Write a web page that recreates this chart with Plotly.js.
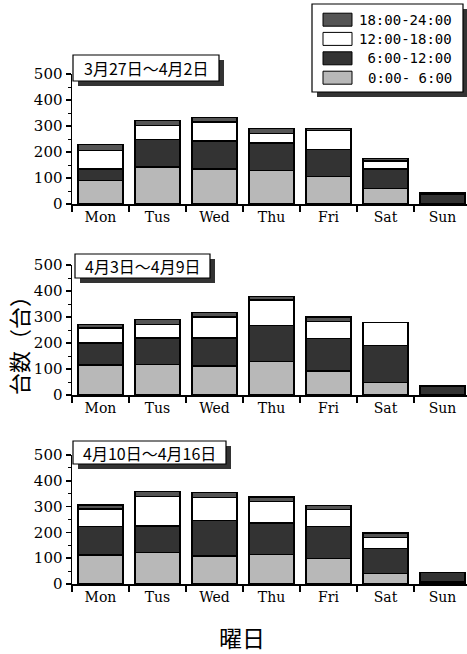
<!DOCTYPE html>
<html>
<head>
<meta charset="utf-8">
<script src="https://cdn.plot.ly/plotly-3.0.1.min.js"></script>
<style>html,body{margin:0;padding:0;background:#fff;}#chart{width:467px;height:654px;}</style>
</head>
<body>
<div id="chart"></div>
<script>
// ---- data ----
const days = ['Mon', 'Tus', 'Wed', 'Thu', 'Fri', 'Sat', 'Sun'];
const seriesNames = ['0:00-\u00a06:00', '\u00a06:00-12:00', '12:00-18:00', '18:00-24:00'];
const panelTitles = ['3月27日～4月2日', '4月3日～4月9日', '4月10日～4月16日'];
const yTickVals = [0, 100, 200, 300, 400, 500];

// week 1 (3/27 - 4/2)
const w1_00_06 = [90, 143, 135, 130, 105, 60, 0];
const w1_06_12 = [45, 105, 108, 105, 105, 75, 38];
const w1_12_18 = [70, 54, 72, 37, 72, 30, 0];
const w1_18_24 = [23, 20, 17, 18, 8, 10, 7];
// week 2 (4/3 - 4/9)
const w2_00_06 = [115, 117, 112, 130, 92, 48, 0];
const w2_06_12 = [85, 103, 108, 137, 126, 142, 35];
const w2_12_18 = [58, 52, 80, 98, 64, 88, 0];
const w2_18_24 = [14, 18, 17, 15, 18, 2, 0];
// week 3 (4/10 - 4/16)
const w3_00_06 = [112, 122, 108, 115, 100, 40, 8];
const w3_06_12 = [110, 103, 137, 122, 122, 98, 37];
const w3_12_18 = [68, 115, 90, 83, 66, 42, 0];
const w3_18_24 = [16, 18, 20, 18, 17, 18, 0];

const panels = [
  [w1_00_06, w1_06_12, w1_12_18, w1_18_24],
  [w2_00_06, w2_06_12, w2_12_18, w2_18_24],
  [w3_00_06, w3_06_12, w3_12_18, w3_18_24]
];

// ---- styling ----
const W = 467, H = 654;
const px = x => x / W;
const py = y => 1 - y / H;
const colors = ['#b8b8b8', '#333333', '#ffffff', '#555555'];
const yDomainsPx = [[74, 204], [265, 395], [455, 584]];
const titleBoxes = [[73, 55, 219, 81], [75, 254, 210, 278], [73, 441, 226, 464]];
const xTickFont = {family: 'DejaVu Serif', size: 14, color: '#000'};
const yTickFont = {family: 'DejaVu Serif', size: 15, color: '#000'};

const traces = [];
panels.forEach((series, p) => {
  const sfx = p === 0 ? '' : String(p + 1);
  series.forEach((vals, s) => {
    traces.push({
      type: 'bar', x: days, y: vals, name: seriesNames[s],
      xaxis: 'x' + sfx, yaxis: 'y' + sfx, width: 0.79,
      marker: {color: colors[s], line: {color: '#000', width: 1.4}},
      showlegend: false, hoverinfo: 'skip'
    });
  });
});

const layout = {
  width: W, height: H,
  margin: {l: 0, r: 0, t: 0, b: 0},
  paper_bgcolor: '#fff', plot_bgcolor: 'rgba(0,0,0,0)',
  barmode: 'stack', showlegend: false,
  shapes: [], annotations: []
};

yDomainsPx.forEach((d, p) => {
  const sfx = p === 0 ? '' : String(p + 1);
  layout['xaxis' + sfx] = {
    domain: [px(72), 1], range: [-0.5, 6.43], anchor: 'y' + sfx,
    showline: true, linecolor: '#000', linewidth: 1.5,
    ticks: 'outside', tickson: 'boundaries', ticklen: 6, tickwidth: 1.5, tickcolor: '#000',
    tickfont: xTickFont, showgrid: false, zeroline: false, automargin: false, fixedrange: true
  };
  layout['yaxis' + sfx] = {
    domain: [py(d[1]), py(d[0])], range: [0, 500], anchor: 'x' + sfx,
    tickvals: yTickVals, ticktext: yTickVals.map(String),
    showline: true, linecolor: '#000', linewidth: 1.5,
    ticks: 'outside', ticklen: 5, tickwidth: 1.5, tickcolor: '#000',
    minor: {dtick: 50, ticks: 'outside', ticklen: 3, tickcolor: '#000', tickwidth: 1},
    tickfont: yTickFont, showgrid: false, zeroline: false, automargin: false, fixedrange: true
  };
  const b = titleBoxes[p];
  layout.shapes.push({type: 'rect', xref: 'paper', yref: 'paper', layer: 'above',
    x0: px(b[0] + 5), x1: px(b[2] + 5), y0: py(b[3] + 5), y1: py(b[1] + 5),
    fillcolor: '#333', line: {width: 0}});
  layout.shapes.push({type: 'rect', xref: 'paper', yref: 'paper', layer: 'above',
    x0: px(b[0]), x1: px(b[2]), y0: py(b[3]), y1: py(b[1]),
    fillcolor: '#fff', line: {color: '#000', width: 1.2}});
  layout.annotations.push({xref: 'paper', yref: 'paper', x: px((b[0] + b[2]) / 2), y: py((b[1] + b[3]) / 2),
    text: panelTitles[p], showarrow: false, xanchor: 'center', yanchor: 'middle',
    font: {family: 'Noto Sans CJK JP', size: 16, color: '#000'}});
});

// legend (drawn manually to match the boxed legend with shadow)
layout.shapes.push({type: 'rect', xref: 'paper', yref: 'paper', x0: px(317), x1: px(467), y0: py(97), y1: py(9),
  fillcolor: '#333', line: {width: 0}});
layout.shapes.push({type: 'rect', xref: 'paper', yref: 'paper', x0: px(312), x1: px(463), y0: py(92), y1: py(4),
  fillcolor: '#fff', line: {color: '#000', width: 1.2}});
const rowY = [19.7, 38.9, 58.3, 77.7];
[3, 2, 1, 0].forEach((s, i) => {
  const cy = rowY[i];
  layout.shapes.push({type: 'rect', xref: 'paper', yref: 'paper', x0: px(323), x1: px(352),
    y0: py(cy + 6.5), y1: py(cy - 6.5), fillcolor: colors[s], line: {color: '#000', width: 1}});
  layout.annotations.push({xref: 'paper', yref: 'paper', x: px(454), y: py(cy), xanchor: 'right', yanchor: 'middle',
    text: seriesNames[s], showarrow: false, font: {family: 'DejaVu Sans Mono', size: 14, color: '#000'}});
});

// axis titles
layout.annotations.push({xref: 'paper', yref: 'paper', x: px(18), y: py(340), text: '台数（台）',
  textangle: -90, showarrow: false, xanchor: 'center', yanchor: 'middle',
  font: {family: 'Noto Sans CJK JP', size: 22, color: '#000'}});
layout.annotations.push({xref: 'paper', yref: 'paper', x: px(242), y: py(637), text: '曜日',
  showarrow: false, xanchor: 'center', yanchor: 'middle',
  font: {family: 'Noto Sans CJK JP', size: 23, color: '#000'}});

Plotly.newPlot('chart', traces, layout, {staticPlot: true, displayModeBar: false});
</script>
</body>
</html>
